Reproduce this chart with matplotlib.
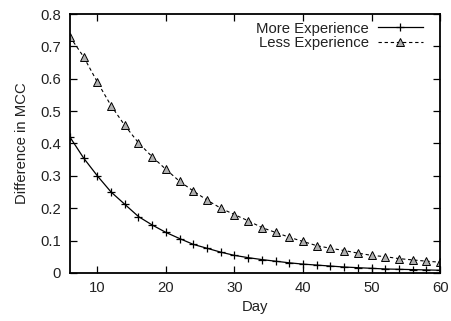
import matplotlib
matplotlib.use("Agg")
import matplotlib.pyplot as plt

days = list(range(6, 61, 2))
more_exp = [0.42, 0.355, 0.30, 0.25, 0.212, 0.174, 0.148, 0.125, 0.106, 0.088,
            0.076, 0.064, 0.054, 0.047, 0.041, 0.036, 0.031, 0.027, 0.024, 0.021,
            0.018, 0.016, 0.014, 0.012, 0.011, 0.010, 0.009, 0.008]
less_exp = [0.73, 0.668, 0.59, 0.517, 0.456, 0.402, 0.359, 0.32, 0.283, 0.253,
            0.225, 0.20, 0.18, 0.161, 0.14, 0.125, 0.11, 0.097, 0.084, 0.076,
            0.069, 0.061, 0.054, 0.05, 0.044, 0.04, 0.036, 0.033]
xticks = [10, 20, 30, 40, 50, 60]
yticks = [0, 0.1, 0.2, 0.3, 0.4, 0.5, 0.6, 0.7, 0.8]
ytick_labels = ["0", "0.1", "0.2", "0.3", "0.4", "0.5", "0.6", "0.7", "0.8"]

FS = 10.7
TXT = '#222222'
plt.rcParams['font.family'] = ['Liberation Sans', 'DejaVu Sans']
fig = plt.figure(figsize=(4.51, 3.21), dpi=100)
ax = fig.add_axes([0.155, 0.150, 0.821, 0.806])

ax.plot(days, more_exp, color='black', lw=0.9, marker='+', ms=5.8, mew=0.9,
        label='More Experience')
ax.plot(days, less_exp, color='black', lw=0.8, ls=(0, (3, 2.5)), marker='^', ms=5.3,
        mfc='#b0b0b0', mec='black', mew=0.7, label='Less Experience')

ax.set_xlim(6, 60)
ax.set_ylim(0, 0.8)
ax.set_xticks(xticks)
ax.set_yticks(yticks)
ax.set_yticklabels(ytick_labels)
ax.tick_params(direction='in', top=True, right=True, labelsize=FS, length=5,
               width=0.9, labelcolor=TXT)
ax.tick_params(axis='x', pad=6)
ax.tick_params(axis='y', pad=6.5)
for s in ax.spines.values():
    s.set_linewidth(1.3)
ax.set_xlabel('Day', fontsize=FS, labelpad=3.5, color=TXT)
ax.set_ylabel('Difference in MCC', fontsize=FS, labelpad=8, color=TXT)

leg = ax.legend(loc='upper right', bbox_to_anchor=(0.973, 1.0), frameon=False,
                markerfirst=False, fontsize=FS, handlelength=3.0, labelspacing=0.05,
                borderaxespad=0.2, handletextpad=0.6, borderpad=0.3,
                labelcolor=TXT)
try:
    for col in leg._legend_handle_box.get_children():
        col.align = 'right'
except Exception:
    pass

fig.savefig('out.png', dpi=100)
